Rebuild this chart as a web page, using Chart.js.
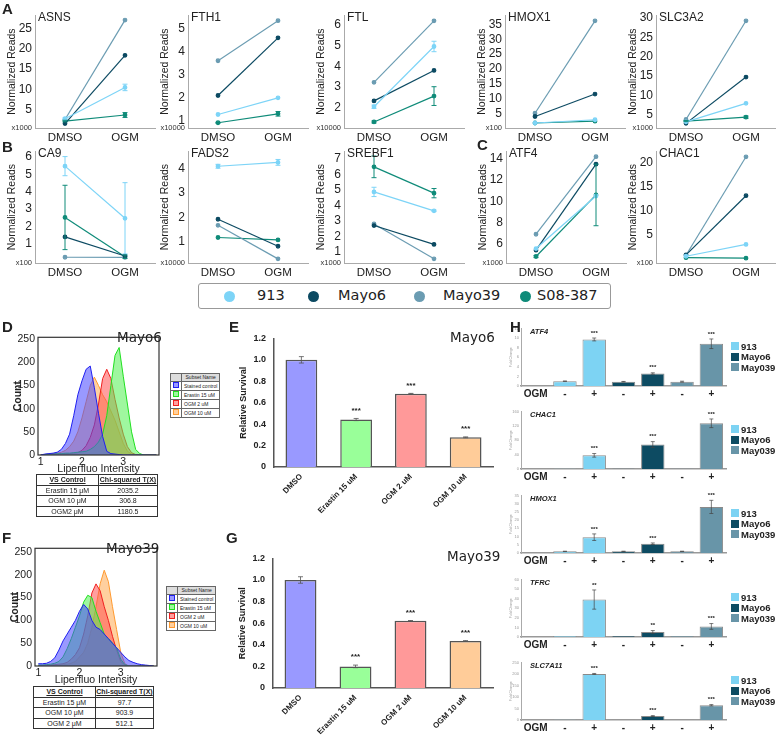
<!DOCTYPE html>
<html>
<head>
<meta charset="utf-8">
<script src="https://cdn.jsdelivr.net/npm/chart.js@4.4.1/dist/chart.umd.min.js"></script>
<style>
  body { margin: 0; background: #fff; }
  #fig { position: relative; width: 776px; height: 735px; overflow: hidden; font-family: 'Liberation Sans', Arial, sans-serif; color: #222; }
  #fig canvas, .t, .legend, table { position: absolute; }
  .t { white-space: nowrap; line-height: 1; }
  .letter { font-weight: bold; font-size: 15px; }
  .gene { font-size: 12px; color: #222; }
  .mult { font-size: 7.5px; color: #333; transform: translateX(-100%); }
  .legend { left: 198px; top: 283px; width: 411px; height: 24px; border: 1px solid #999; border-radius: 3px; }
  .dot { position: absolute; width: 11px; height: 11px; border-radius: 50%; }
  .ltxt { font-family: 'DejaVu Sans', sans-serif; font-size: 14.5px; }
  .tag { font-family: 'DejaVu Sans', sans-serif; font-size: 13.5px; }
  .sub { border-collapse: collapse; font-size: 5px; background: #fff; white-space: nowrap; }
  .sub td { border: 1px solid #666; padding: 0 2px; height: 7px; line-height: 7px; }
  .sub tr:first-child td { background: #ddd; text-align: center; }
  .sub i { display: inline-block; width: 4px; height: 4px; border: 1px solid; }
  .stats { border-collapse: collapse; font-size: 7px; text-align: center; white-space: nowrap; table-layout: fixed; }
  .stats td { border: 1px solid #333; height: 9.6px; padding: 0; line-height: 9px; overflow: hidden; }
  .stats tr:first-child td { font-weight: bold; text-decoration: underline; }
  .hgene { font-weight: bold; font-style: italic; font-size: 7.5px; }
  .sq { position: absolute; width: 8px; height: 8px; }
  .hleg { font-weight: bold; font-size: 9.5px; }
</style>
</head>
<body>
<div id="fig"></div>
<script>
// ---------- data ----------
const conditions = ['DMSO', 'OGM'];
const lineNames = ['913', 'Mayo6', 'Mayo39', 'S08-387'];

// normalized reads, one [DMSO, OGM] pair per line (same order as lineNames)
const asns = [[2.8, 10.5], [1.6, 18.4], [2.6, 27.1], [2.2, 3.7]];
const asnsErr = [[0.2, 0.8], [0, 0], [0, 0], [0.2, 0.6]];
const fth1 = [[1.25, 1.98], [2.08, 4.6], [3.6, 5.35], [0.89, 1.28]];
const fth1Err = [[0, 0], [0, 0], [0, 0], [0.02, 0.1]];
const ftl = [[2.06, 4.95], [2.34, 3.8], [3.23, 6.18], [1.33, 2.57]];
const ftlErr = [[0.08, 0.25], [0, 0], [0, 0], [0.05, 0.45]];
const hmox1 = [[1.7, 2.8], [3.9, 11.5], [5.0, 36.3], [1.7, 2.3]];
const slc3a2 = [[3.1, 7.9], [2.7, 14.7], [3.7, 29.3], [3.3, 4.3]];
const slc3a2Err = [[0, 0], [0, 0], [0, 0], [0.15, 0.3]];
const ca9 = [[5.47, 2.47], [1.4, 0.3], [0.23, 0.22], [2.52, 0.26]];
const ca9Err = [[0.55, 2.05], [0, 0], [0, 0], [1.85, 0.1]];
const fads2 = [[4.1, 4.26], [1.92, 0.81], [1.67, 0.29], [1.17, 1.07]];
const fads2Err = [[0.08, 0.12], [0, 0], [0, 0], [0, 0]];
const srebf1 = [[4.87, 3.65], [2.7, 1.48], [2.8, 0.55], [6.49, 4.79]];
const srebf1Err = [[0.3, 0.05], [0, 0], [0, 0], [0.7, 0.3]];
const atf4Reads = [[5.55, 10.5], [5.4, 13.5], [6.9, 14.2], [4.8, 10.6]];
const atf4ReadsErr = [[0, 0], [0, 0], [0, 0], [0.1, 2.9]];
const chac1Reads = [[0.6, 3.06], [0.9, 13.2], [0.8, 21.3], [0.3, 0.2]];

const asnsTicks = [5, 10, 15, 20, 25];
const fth1Ticks = [1, 2, 3, 4, 5];
const ftlTicks = [2, 3, 4, 5, 6];
const hmox1Ticks = [5, 10, 15, 20, 25, 30, 35];
const slc3a2Ticks = [5, 10, 15, 20, 25, 30];
const ca9Ticks = [1, 2, 3, 4, 5, 6];
const fads2Ticks = [1, 2, 3, 4];
const srebf1Ticks = [1, 2, 3, 4, 5, 6, 7];
const atf4ReadsTicks = [6, 8, 10, 12, 14];
const chac1ReadsTicks = [5, 10, 15, 20];

// Liperfluo histograms, counts at each intensity bin
const intensity = [1.0, 1.1, 1.2, 1.3, 1.4, 1.5, 1.6, 1.7, 1.8, 1.9, 2.0, 2.1, 2.2, 2.3, 2.4,
  2.5, 2.6, 2.7, 2.8, 2.9, 3.0, 3.1, 3.2, 3.3, 3.4, 3.5, 3.6, 3.7, 3.8];
const subsets = ['Stained control', 'Erastin 15 uM', 'OGM 2 uM', 'OGM 10 uM'];
const mayo6Stained = [0, 2, 3, 4, 6, 12, 25, 45, 85, 130, 160, 185, 192, 145, 90, 40, 8, 3, 2, 1, 0, 0, 0, 0, 0, 0, 0, 0, 0];
const mayo6Erastin = [0, 1, 2, 2, 3, 3, 4, 4, 5, 6, 7, 8, 12, 18, 28, 45, 85, 150, 215, 232, 170, 110, 50, 12, 3, 0, 0, 0, 0];
const mayo6Ogm2 = [0, 1, 1, 2, 2, 3, 3, 3, 4, 5, 10, 20, 38, 65, 110, 165, 185, 165, 120, 80, 45, 18, 5, 1, 0, 0, 0, 0, 0];
const mayo6Ogm10 = [0, 1, 2, 3, 4, 6, 10, 18, 30, 50, 80, 115, 150, 168, 150, 130, 115, 95, 75, 50, 25, 8, 2, 0, 0, 0, 0, 0, 0];
const mayo39Stained = [5, 5, 6, 10, 18, 35, 55, 70, 85, 100, 120, 135, 125, 100, 85, 80, 70, 60, 50, 40, 30, 20, 12, 8, 5, 3, 2, 1, 0];
const mayo39Erastin = [2, 2, 3, 4, 6, 10, 20, 38, 60, 85, 110, 140, 155, 150, 120, 95, 70, 60, 50, 40, 15, 3, 0, 0, 0, 0, 0, 0, 0];
const mayo39Ogm2 = [1, 1, 2, 2, 3, 4, 5, 8, 15, 25, 40, 70, 110, 160, 180, 165, 130, 100, 65, 35, 10, 2, 0, 0, 0, 0, 0, 0, 0];
const mayo39Ogm10 = [0, 1, 1, 1, 2, 2, 3, 4, 6, 10, 20, 30, 50, 85, 130, 180, 210, 185, 130, 80, 30, 5, 0, 0, 0, 0, 0, 0, 0];
const histXTicks = [1, 2, 3];
const histYTicks = [0, 50, 100, 150, 200, 250];

// relative survival
const survivalLabels = ['DMSO', 'Erastin 15 uM', 'OGM 2 uM', 'OGM 10 uM'];
const mayo6Survival = [1.0, 0.443, 0.684, 0.277];
const mayo6SurvivalErr = [0.03, 0.01, 0.003, 0.004];
const mayo39Survival = [1.0, 0.2, 0.622, 0.435];
const mayo39SurvivalErr = [0.03, 0.012, 0.003, 0.004];
const survivalStars = ['', '***', '***', '***'];
const survivalTicks = [0, 0.2, 0.4, 0.6, 0.8, 1.0, 1.2];

// qPCR fold change (first slot is the "OGM" row label, no bar)
const foldLabels = ['OGM', '-', '+', '-', '+', '-', '+'];
const foldLines = ['913', 'Mayo6', 'May039'];
const atf4Fold = [null, 1.0, 9.7, 0.9, 2.6, 0.9, 8.8];
const atf4FoldErr = [0, 0.05, 0.3, 0.05, 0.15, 0.1, 1.0];
const chac1Fold = [null, 1, 38, 1, 68, 1, 127];
const chac1FoldErr = [0, 0, 5, 0, 8, 0, 12];
const hmox1Fold = [null, 1, 9.6, 1, 5.6, 1, 28];
const hmox1FoldErr = [0, 0.1, 2, 0.1, 0.5, 0.1, 4];
const tfrcFold = [null, 1, 39, 1, 5.2, 1, 11];
const tfrcFoldErr = [0, 0, 10, 0, 1.5, 0, 3];
const slc7a11Fold = [null, 1.5, 200, 1, 17, 1, 64];
const slc7a11FoldErr = [0, 0, 2, 0, 2, 0, 3];
const foldStars = ['', '', '***', '', '***', '', '***'];
const tfrcStars = ['', '', '**', '', '**', '', '***'];
const atf4FoldTicks = [0, 2, 4, 6, 8, 10, 12];
const chac1FoldTicks = [0, 20, 40, 60, 80, 100, 120, 140, 160];
const hmox1FoldTicks = [0, 5, 10, 15, 20, 25, 30, 35];
const tfrcFoldTicks = [0, 10, 20, 30, 40, 50, 60];
const slc7a11FoldTicks = [0, 50, 100, 150, 200, 250];

// ---------- styling ----------
const ARIAL = "'Liberation Sans', Arial, sans-serif";
const lineColors = ['#7dd4f7', '#0c4a62', '#6b9cb2', '#0f8b79'];
const histLine = ['#2020f0', '#20e020', '#f02020', '#ff9a30'];
const histFill = ['rgba(70,70,255,0.55)', 'rgba(80,240,80,0.55)', 'rgba(255,80,80,0.55)', 'rgba(255,170,80,0.55)'];
const survivalColors = ['#9999ff', '#99ff99', '#ff9999', '#ffcc99'];
const foldColors = ['#7dd3f3', '#0d4b62', '#6895a8'];

Chart.defaults.font.family = ARIAL;
Chart.defaults.color = '#222';
Chart.defaults.animation = false;
Chart.defaults.responsive = false;
Chart.defaults.plugins.legend.display = false;
Chart.defaults.plugins.tooltip.enabled = false;

const fig = document.getElementById('fig');

// error bars drawn from dataset.errors through the y scale
const errorBars = {
  id: 'errorBars',
  afterDatasetsDraw(chart, args, opts) {
    const ctx = chart.ctx, y = chart.scales.y, a = chart.chartArea;
    chart.data.datasets.forEach((ds, i) => {
      if (!ds.errors) return;
      chart.getDatasetMeta(i).data.forEach((el, j) => {
        const e = ds.errors[j];
        if (!e || ds.data[j] == null) return;
        const top = y.getPixelForValue(ds.data[j] + e);
        const bot = Math.min(y.getPixelForValue(ds.data[j] - e), a.bottom);
        ctx.save();
        ctx.strokeStyle = opts.color || ds.borderColor;
        ctx.lineWidth = opts.width || 1;
        ctx.beginPath();
        ctx.moveTo(el.x, top); ctx.lineTo(el.x, bot);
        ctx.moveTo(el.x - opts.cap, top); ctx.lineTo(el.x + opts.cap, top);
        if (bot < a.bottom) { ctx.moveTo(el.x - opts.cap, bot); ctx.lineTo(el.x + opts.cap, bot); }
        ctx.stroke();
        ctx.restore();
      });
    });
  }
};

// significance stars above each bar
const starLabels = {
  id: 'starLabels',
  afterDatasetsDraw(chart, args, opts) {
    const ctx = chart.ctx, y = chart.scales.y;
    chart.data.datasets.forEach((ds, i) => {
      if (!ds.stars) return;
      chart.getDatasetMeta(i).data.forEach((el, j) => {
        const s = ds.stars[j];
        if (!s) return;
        const v = ds.data[j] + (ds.errors ? ds.errors[j] : 0);
        ctx.save();
        ctx.font = opts.font;
        ctx.fillStyle = '#222';
        ctx.textAlign = 'center';
        ctx.textBaseline = 'bottom';
        ctx.fillText(s, el.x, y.getPixelForValue(v) - opts.gap);
        ctx.restore();
      });
    });
  }
};

// closed frame around the plot area
const boxBorder = {
  id: 'boxBorder',
  afterDraw(chart) {
    const a = chart.chartArea, ctx = chart.ctx;
    ctx.save();
    ctx.strokeStyle = '#333';
    ctx.lineWidth = 1.2;
    ctx.strokeRect(a.left, a.top, a.right - a.left, a.bottom - a.top);
    ctx.restore();
  }
};

function makeCanvas(x0, y0, x1, y1, pad) {
  const c = document.createElement('canvas');
  const w = Math.round(x1 - x0 + pad.l + pad.r);
  const h = Math.round(y1 - y0 + pad.t + pad.b);
  c.width = w; c.height = h;
  c.style.left = Math.round(x0 - pad.l) + 'px';
  c.style.top = Math.round(y0 - pad.t) + 'px';
  fig.appendChild(c);
  return c;
}

function layoutFor(pad) {
  return { autoPadding: false, padding: { left: 0, top: pad.t, right: pad.r, bottom: 0 } };
}

function addText(txt, x, y, cls, css) {
  const d = document.createElement('div');
  d.className = 't ' + (cls || '');
  d.textContent = txt;
  d.style.left = x + 'px';
  d.style.top = y + 'px';
  if (css) d.style.cssText += css;
  fig.appendChild(d);
  return d;
}

const fixTicks = list => s => { s.ticks = list.map(v => ({ value: v })); };

// ---------- A / B / C: normalized reads ----------
const linePanels = [
  { gene: 'ASNS', mult: 'x1000', vals: asns, err: asnsErr, ticks: asnsTicks, x: 35, y0: 11, y1: 128, min: 0.5, max: 28.3 },
  { gene: 'FTH1', mult: 'x10000', vals: fth1, err: fth1Err, ticks: fth1Ticks, x: 188, y0: 11, y1: 128, min: 0.66, max: 5.59 },
  { gene: 'FTL', mult: 'x10000', vals: ftl, err: ftlErr, ticks: ftlTicks, x: 344, y0: 11, y1: 128, min: 1.04, max: 6.45 },
  { gene: 'HMOX1', mult: 'x100', vals: hmox1, err: null, ticks: hmox1Ticks, x: 505, y0: 11, y1: 128, min: 0, max: 38.2 },
  { gene: 'SLC3A2', mult: 'x1000', vals: slc3a2, err: slc3a2Err, ticks: slc3a2Ticks, x: 656, y0: 11, y1: 128, min: 1.5, max: 30.75 },
  { gene: 'CA9', mult: 'x100', vals: ca9, err: ca9Err, ticks: ca9Ticks, x: 35, y0: 147, y1: 263, min: -0.1, max: 6.33 },
  { gene: 'FADS2', mult: 'x10000', vals: fads2, err: fads2Err, ticks: fads2Ticks, x: 188, y0: 147, y1: 263, min: 0.12, max: 4.72 },
  { gene: 'SREBF1', mult: 'x1000', vals: srebf1, err: srebf1Err, ticks: srebf1Ticks, x: 344, y0: 147, y1: 263, min: 0.28, max: 7.5 },
  { gene: 'ATF4', mult: 'x1000', vals: atf4Reads, err: atf4ReadsErr, ticks: atf4ReadsTicks, x: 506, y0: 147, y1: 263, min: 4.19, max: 14.72 },
  { gene: 'CHAC1', mult: 'x100', vals: chac1Reads, err: null, ticks: chac1ReadsTicks, x: 656, y0: 147, y1: 263, min: -0.8, max: 22.46 }
];

linePanels.forEach(p => {
  const pad = { l: 36, t: 6, r: 4, b: 18 };
  const c = makeCanvas(p.x, p.y0, p.x + 120, p.y1, pad);
  new Chart(c, {
    type: 'line',
    data: {
      labels: conditions,
      datasets: lineNames.map((n, i) => ({
        label: n,
        data: p.vals[i],
        errors: p.err ? p.err[i] : null,
        borderColor: lineColors[i],
        backgroundColor: lineColors[i],
        borderWidth: 1.2,
        pointRadius: 1.8,
        tension: 0
      }))
    },
    options: {
      layout: layoutFor(pad),
      scales: {
        x: {
          offset: true,
          grid: { display: false, drawTicks: false },
          border: { color: '#aaa' },
          ticks: { font: { size: 11.5 }, padding: 3, color: '#222' },
          afterFit: s => { s.height = pad.b; }
        },
        y: {
          min: p.min, max: p.max,
          grid: { display: false, drawTicks: false },
          border: { color: '#aaa' },
          ticks: { font: { size: 12 }, padding: 3, color: '#222' },
          title: { display: true, text: 'Normalized Reads', font: { size: 10.5 }, padding: { top: 7, bottom: 0 }, color: '#222' },
          afterBuildTicks: fixTicks(p.ticks),
          afterFit: s => { s.width = pad.l; }
        }
      },
      plugins: { errorBars: { cap: 2.5, width: 1 } }
    },
    plugins: [errorBars]
  });
  addText(p.gene, p.x + 3, p.y0, 'gene');
  addText(p.mult, p.x - 3, p.y1 - 4, 'mult');
});

// legend for A-C
const lg = document.createElement('div');
lg.className = 'legend';
fig.appendChild(lg);
const legendDots = [228, 312, 418, 524];
const legendText = [257, 338, 443, 537];
lineNames.forEach((n, i) => {
  const d = document.createElement('div');
  d.className = 'dot';
  d.style.background = lineColors[i];
  d.style.left = (legendDots[i] - 198 - 5.5) + 'px';
  d.style.top = '7px';
  lg.appendChild(d);
  addText(n, legendText[i], 288, 'ltxt');
});

// ---------- D / F: Liperfluo histograms ----------
function histPanel(series, area, xr, ymax) {
  const pad = { l: 38, t: 4, r: 4, b: 20 };
  const c = makeCanvas(area[0], area[1], area[2], area[3], pad);
  new Chart(c, {
    type: 'line',
    data: {
      datasets: series.map((d, i) => ({
        label: subsets[i],
        data: intensity.map((x, k) => ({ x: x, y: d[k] })),
        borderColor: histLine[i],
        backgroundColor: histFill[i],
        fill: 'origin',
        borderWidth: 1,
        pointRadius: 0,
        tension: 0
      }))
    },
    options: {
      layout: layoutFor(pad),
      scales: {
        x: {
          type: 'linear', min: xr[0], max: xr[1],
          grid: { display: false, drawTicks: false },
          border: { display: false },
          ticks: { font: { size: 10.5 }, padding: 1 },
          title: { display: true, text: 'Liperfluo Intensity', font: { size: 10.5 }, padding: { top: 0, bottom: 0 } },
          afterBuildTicks: fixTicks(histXTicks),
          afterFit: s => { s.height = pad.b; }
        },
        y: {
          min: 0, max: ymax,
          grid: { display: false, drawTicks: false },
          border: { display: false },
          ticks: { font: { size: 10.5 }, padding: 3 },
          title: { display: true, text: 'Count', font: { size: 10.5, weight: 'bold' }, padding: { top: 12, bottom: 0 } },
          afterBuildTicks: fixTicks(histYTicks),
          afterFit: s => { s.width = pad.l; }
        }
      }
    },
    plugins: [boxBorder]
  });
}
histPanel([mayo6Stained, mayo6Erastin, mayo6Ogm2, mayo6Ogm10], [38, 332, 159, 455], [0.935, 3.865], 254);
histPanel([mayo39Stained, mayo39Erastin, mayo39Ogm2, mayo39Ogm10], [35, 543, 157, 666], [0.92, 3.88], 258);
addText('Mayo6', 117, 331, 'tag');
addText('Mayo39', 106, 542, 'tag');

function subsetTable(x, y) {
  const t = document.createElement('table');
  t.className = 'sub';
  t.style.left = x + 'px';
  t.style.top = y + 'px';
  let html = '<tr><td></td><td>Subset Name</td></tr>';
  subsets.forEach((s, i) => {
    html += '<tr><td><i style="border-color:' + histLine[i] + ';background:' + histFill[i] + '"></i></td><td>' + s + '</td></tr>';
  });
  t.innerHTML = html;
  fig.appendChild(t);
}
subsetTable(170, 373);
subsetTable(166, 586);

function statsTable(x, y, w, c1, rows) {
  const t = document.createElement('table');
  t.className = 'stats';
  t.style.left = x + 'px';
  t.style.top = y + 'px';
  t.style.width = w + 'px';
  let html = '<tr><td style="width:' + c1 + 'px">VS Control</td><td>Chi-squared T(X)</td></tr>';
  rows.forEach(r => { html += '<tr><td>' + r[0] + '</td><td>' + r[1] + '</td></tr>'; });
  t.innerHTML = html;
  fig.appendChild(t);
}
statsTable(36, 474, 122, 61, [['Erastin 15 \u03bcM', '2035.2'], ['OGM 10 \u03bcM', '306.8'], ['OGM2 \u03bcM', '1180.5']]);
statsTable(33, 686, 121, 61, [['Erastin 15 \u03bcM', '97.7'], ['OGM 10 \u03bcM', '903.9'], ['OGM 2 \u03bcM', '512.1']]);

// ---------- E / G: relative survival ----------
function survivalPanel(vals, errs, area) {
  const pad = { l: 44, t: 8, r: 4, b: 56 };
  const c = makeCanvas(area[0], area[1], area[2], area[3], pad);
  new Chart(c, {
    type: 'bar',
    data: {
      labels: survivalLabels,
      datasets: [{
        data: vals,
        errors: errs,
        stars: survivalStars,
        backgroundColor: survivalColors,
        borderColor: '#555',
        borderWidth: 1.5,
        barPercentage: 0.58,
        categoryPercentage: 1
      }]
    },
    options: {
      layout: layoutFor(pad),
      scales: {
        x: {
          grid: { display: false, drawTicks: false },
          border: { color: '#555', width: 1.5 },
          ticks: { font: { size: 8, weight: 'bold' }, minRotation: 45, maxRotation: 45, padding: 5 },
          afterFit: s => { s.height = pad.b; }
        },
        y: {
          min: 0, max: 1.2,
          grid: { display: false, drawTicks: false },
          border: { color: '#555', width: 1.5 },
          ticks: { font: { size: 9, weight: 'bold' }, padding: 8, callback: v => v === 0 ? '0' : v.toFixed(1) },
          title: { display: true, text: 'Relative Survival', font: { size: 9, weight: 'bold' }, padding: { top: 8, bottom: 0 } },
          afterBuildTicks: fixTicks(survivalTicks),
          afterFit: s => { s.width = pad.l; }
        }
      },
      plugins: {
        errorBars: { cap: 2.5, width: 0.8, color: '#555' },
        starLabels: { font: 'bold 8px ' + ARIAL, gap: 4 }
      }
    },
    plugins: [errorBars, starLabels]
  });
}
survivalPanel(mayo6Survival, mayo6SurvivalErr, [274, 333, 493, 467]);
survivalPanel(mayo39Survival, mayo39SurvivalErr, [273, 553, 493, 688]);
addText('Mayo6', 450, 331, 'tag');
addText('Mayo39', 447, 550, 'tag');

// ---------- H: fold change ----------
function foldPanel(gene, vals, errs, stars, ticks, top) {
  const area = [521, top, 726, top + 58];
  const pad = { l: 14, t: 4, r: 2, b: 13 };
  const c = makeCanvas(area[0], area[1], area[2], area[3], pad);
  const ymax = ticks[ticks.length - 1];
  new Chart(c, {
    type: 'bar',
    data: {
      labels: foldLabels,
      datasets: [{
        data: vals,
        errors: errs,
        stars: stars,
        backgroundColor: vals.map((v, i) => i === 0 ? 'transparent' : foldColors[Math.floor((i - 1) / 2)]),
        borderColor: '#8a8a8a',
        borderWidth: 1,
        barPercentage: 0.8,
        categoryPercentage: 1
      }]
    },
    options: {
      layout: layoutFor(pad),
      scales: {
        x: {
          grid: { display: false, drawTicks: false },
          border: { color: '#999', width: 1.5 },
          ticks: { font: { size: 10, weight: 'bold' }, padding: 2, maxRotation: 0, autoSkip: false },
          afterFit: s => { s.height = pad.b; }
        },
        y: {
          min: 0, max: ymax,
          grid: { display: false, drawTicks: false },
          border: { color: '#aaa', width: 1 },
          ticks: { font: { size: 4 }, color: '#999', padding: 2 },
          title: { display: true, text: 'Fold Change', font: { size: 3.5 }, color: '#999', padding: { top: 2, bottom: 0 } },
          afterBuildTicks: fixTicks(ticks),
          afterFit: s => { s.width = pad.l; }
        }
      },
      plugins: {
        errorBars: { cap: 2, width: 0.7, color: '#444' },
        starLabels: { font: 'bold 6px ' + ARIAL, gap: 2 }
      }
    },
    plugins: [errorBars, starLabels]
  });
  addText(gene, 530, top, 'hgene');
  foldLines.forEach((n, i) => {
    const sq = document.createElement('div');
    sq.className = 'sq';
    sq.style.background = foldColors[i];
    sq.style.left = '731px';
    sq.style.top = (top + 14 + i * 10.5) + 'px';
    fig.appendChild(sq);
    addText(n, 741, top + 13.5 + i * 10.5, 'hleg');
  });
}
foldPanel('ATF4', atf4Fold, atf4FoldErr, foldStars, atf4FoldTicks, 328);
foldPanel('CHAC1', chac1Fold, chac1FoldErr, foldStars, chac1FoldTicks, 411);
foldPanel('HMOX1', hmox1Fold, hmox1FoldErr, foldStars, hmox1FoldTicks, 495);
foldPanel('TFRC', tfrcFold, tfrcFoldErr, tfrcStars, tfrcFoldTicks, 579);
foldPanel('SLC7A11', slc7a11Fold, slc7a11FoldErr, foldStars, slc7a11FoldTicks, 662);

// ---------- panel letters ----------
[['A', 2, 1], ['B', 2, 139], ['C', 477, 137], ['D', 2, 319], ['E', 229, 319],
 ['F', 2, 530], ['G', 226, 530], ['H', 510, 319]].forEach(l => addText(l[0], l[1], l[2], 'letter'));
</script>
</body>
</html>
